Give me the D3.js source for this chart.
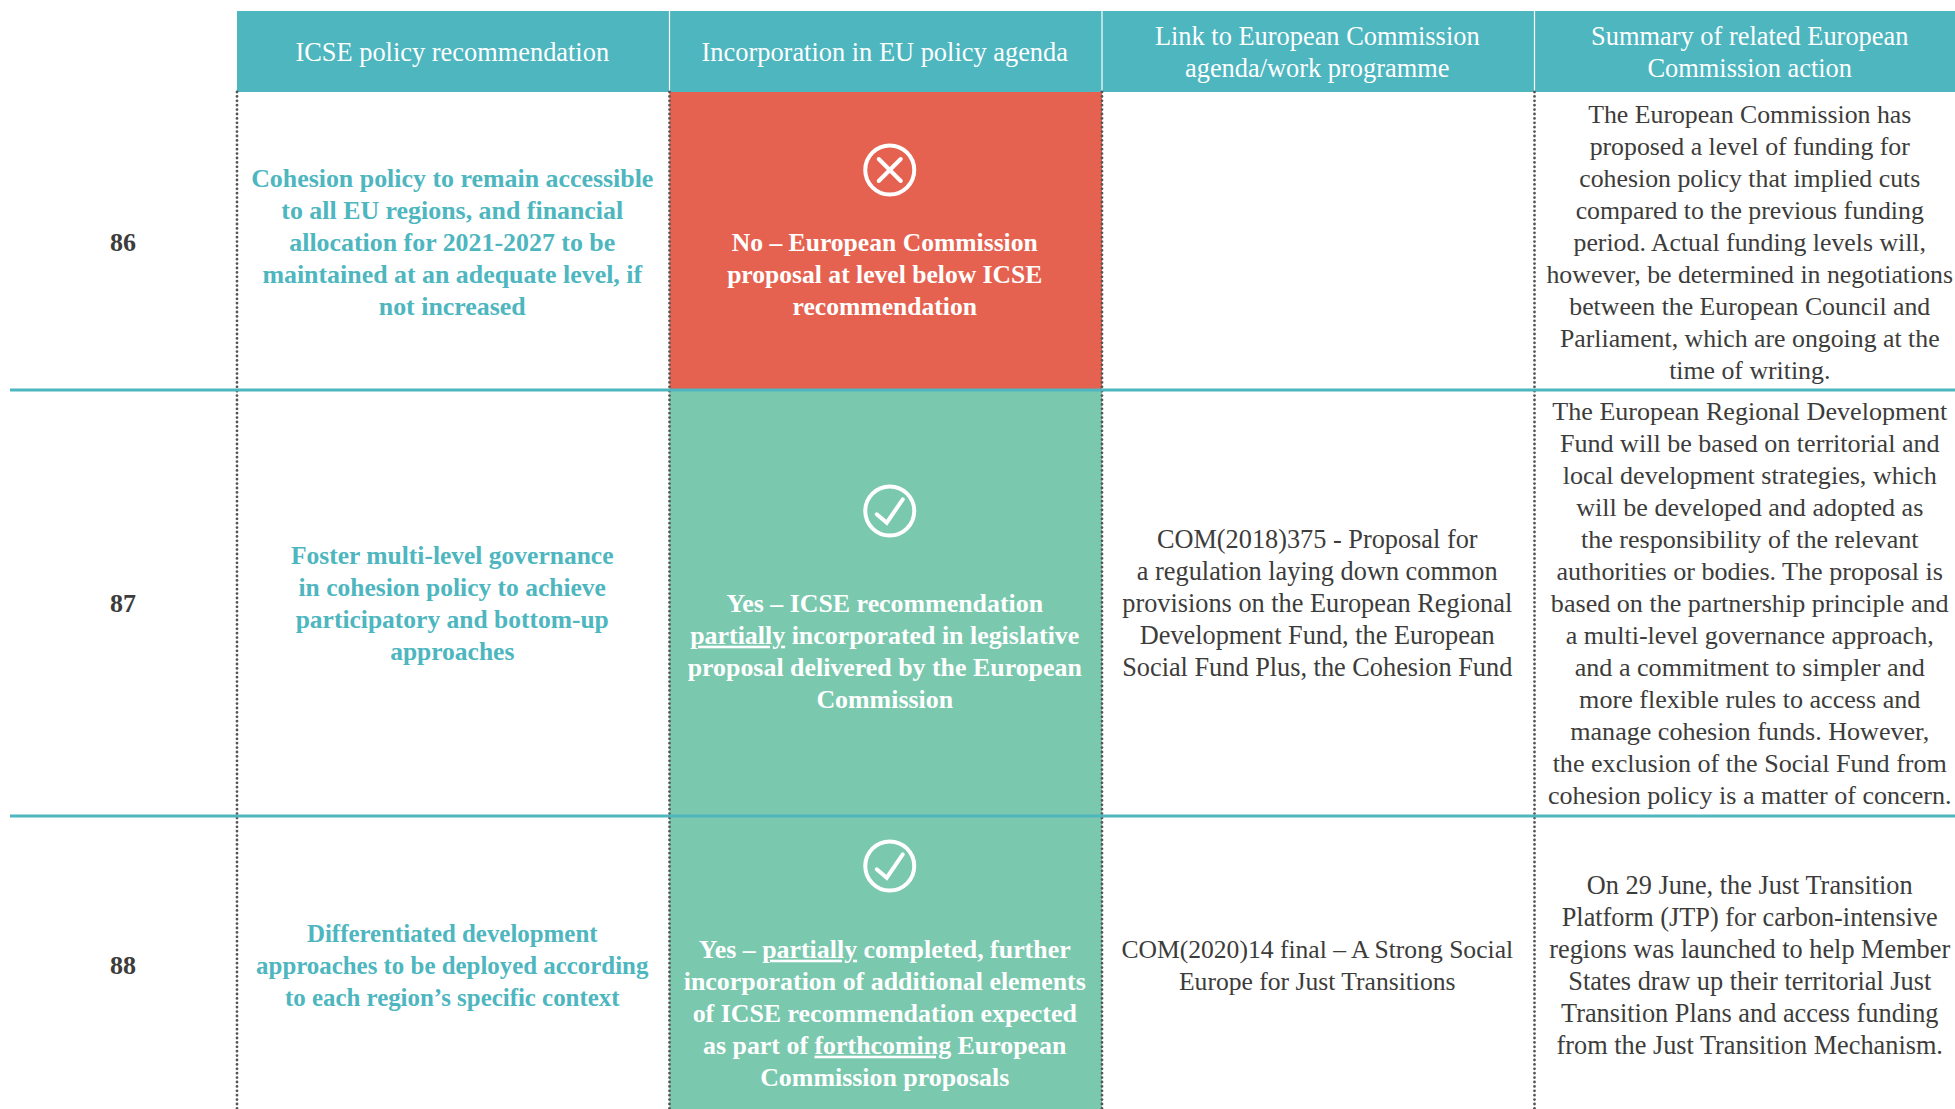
<!DOCTYPE html>
<html>
<head>
<meta charset="utf-8">
<script src="https://cdn.jsdelivr.net/npm/d3@7"></script>
<style>
  body { margin: 0; background: #fff; overflow: hidden; }
  svg { display: block; }
  text { font-family: "Liberation Serif", serif; text-anchor: middle; }
</style>
</head>
<body>
<svg></svg>
<script>
const width = 1955;
const height = 1109;

const headers = [
  ['ICSE policy recommendation'],
  ['Incorporation in EU policy agenda'],
  ['Link to European Commission', 'agenda/work programme'],
  ['Summary of related European', 'Commission action']
];

const rowNumbers = ['86', '87', '88'];
const rowLines = [9, 13, 9];
const statuses = ['no', 'yes', 'yes'];

const recommendations = [
  ['Cohesion policy to remain accessible', 'to all EU regions, and financial', 'allocation for 2021-2027 to be', 'maintained at an adequate level, if', 'not increased'],
  ['Foster multi-level governance', 'in cohesion policy to achieve', 'participatory and bottom-up', 'approaches'],
  ['Differentiated development', 'approaches to be deployed according', 'to each region’s specific context']
];

const incorporation = [
  ['No – European Commission', 'proposal at level below ICSE', 'recommendation'],
  ['Yes – ICSE recommendation', 'partially incorporated in legislative', 'proposal delivered by the European', 'Commission'],
  ['Yes – partially completed, further', 'incorporation of additional elements', 'of ICSE recommendation expected', 'as part of forthcoming European', 'Commission proposals']
];

const links = [
  [],
  ['COM(2018)375 - Proposal for', 'a regulation laying down common', 'provisions on the European Regional', 'Development Fund, the European', 'Social Fund Plus, the Cohesion Fund'],
  ['COM(2020)14 final – A Strong Social', 'Europe for Just Transitions']
];

const summaries = [
  ['The European Commission has', 'proposed a level of funding for', 'cohesion policy that implied cuts', 'compared to the previous funding', 'period. Actual funding levels will,', 'however, be determined in negotiations', 'between the European Council and', 'Parliament, which are ongoing at the', 'time of writing.'],
  ['The European Regional Development', 'Fund will be based on territorial and', 'local development strategies, which', 'will be developed and adopted as', 'the responsibility of the relevant', 'authorities or bodies. The proposal is', 'based on the partnership principle and', 'a multi-level governance approach,', 'and a commitment to simpler and', 'more flexible rules to access and', 'manage cohesion funds. However,', 'the exclusion of the Social Fund from', 'cohesion policy is a matter of concern.'],
  ['On 29 June, the Just Transition', 'Platform (JTP) for carbon-intensive', 'regions was launched to help Member', 'States draw up their territorial Just', 'Transition Plans and access funding', 'from the Just Transition Mechanism.']
];

const teal = '#4db6bf';
const ink = '#3c3c3b';
const statusColor = d3.scaleOrdinal().domain(['no', 'yes']).range(['#e66250', '#7ac8ae']);

const lineHeight = 32;
const headerTop = 11;
const headerBottom = 92;

// the cells do not all set at the same width as the source font
const recommendationSize = [25.9, 25.5, 24.9];
const incorporationSize = [25.6, 25.9, 25.9];
const linkSize = [25.6, 26.3, 25.6];
const summarySize = [25.8, 26.1, 26.3];

// row edges follow the line count of the tallest cell
const rowEdges = [headerBottom].concat(Array.from(d3.cumsum(rowLines, n => n * lineHeight + 10), d => headerBottom + d));
const x = d3.scaleLinear().domain([0, 4]).range([237, 1967]);
const rowTop = i => rowEdges[i];
const rowMid = i => (rowEdges[i] + rowEdges[i + 1]) / 2 - (i > 0 ? 0.8 : 0);
const colMid = i => (x(i) + x(i + 1)) / 2 - 1;

// where the icon and the text block sit inside the status cell
const iconOffset = [78, 121, 50];
const statusTextOffset = [32, 48, 48];

const svg = d3.select('svg').attr('width', width).attr('height', height);

function drawLines(g, lines, cx, cy, opts) {
  let t = g.append('text')
    .attr('font-size', opts.size)
    .attr('font-weight', opts.bold ? 700 : 400)
    .attr('fill', opts.fill);
  lines.forEach((line, i) => {
    let y = cy + (i - (lines.length - 1) / 2) * lineHeight + 9.5;
    line.split(/(partially|forthcoming)/).filter(s => s).forEach((part, j) => {
      let span = t.append('tspan').text(part);
      if (j === 0) span.attr('x', cx).attr('y', y);
      if (part === 'partially' || part === 'forthcoming') span.style('text-decoration', 'underline');
    });
  });
}

// header band
svg.append('rect')
  .attr('x', x(0)).attr('y', headerTop)
  .attr('width', width - x(0)).attr('height', headerBottom - headerTop)
  .attr('fill', teal);

svg.selectAll('.divider')
  .data([1, 2, 3])
  .enter().append('line')
    .classed('divider', true)
    .attr('x1', d => x(d)).attr('x2', d => x(d))
    .attr('y1', headerTop).attr('y2', headerBottom)
    .attr('stroke', '#fff').attr('stroke-width', 1.2);

headers.forEach((h, i) => {
  drawLines(svg, h, colMid(i), (headerTop + headerBottom) / 2, { fill: '#fff', size: 26.4 });
});

// status cells
svg.selectAll('.status')
  .data(statuses)
  .enter().append('rect')
    .classed('status', true)
    .attr('x', x(1)).attr('width', x(2) - x(1))
    .attr('y', (d, i) => rowTop(i))
    .attr('height', (d, i) => rowEdges[i + 1] - rowEdges[i])
    .attr('fill', d => statusColor(d));

// dotted column rules
svg.selectAll('.rule')
  .data([0, 1, 2, 3])
  .enter().append('line')
    .classed('rule', true)
    .attr('x1', d => x(d)).attr('x2', d => x(d))
    .attr('y1', headerBottom).attr('y2', height)
    .attr('stroke', '#555')
    .attr('stroke-width', 2.8)
    .attr('stroke-linecap', 'round')
    .attr('stroke-dasharray', '0 4.4');

// row separators
svg.selectAll('.separator')
  .data(rowEdges.slice(1, 3))
  .enter().append('line')
    .classed('separator', true)
    .attr('x1', 10).attr('x2', width)
    .attr('y1', d => d).attr('y2', d => d)
    .attr('stroke', teal).attr('stroke-width', 3);

// icons
const iconLine = d3.line();
const checkMark = [[-13, 3.3], [-3, 11.7], [13, -11.7]];
const crossMarks = [[[-11, -11], [11, 11]], [[-11, 11], [11, -11]]];

statuses.forEach((status, i) => {
  let icon = svg.append('g')
    .attr('transform', `translate(${(x(1) + x(2)) / 2 + 4}, ${rowTop(i) + iconOffset[i]})`)
    .attr('fill', 'none').attr('stroke', '#fff')
    .attr('stroke-width', 4).attr('stroke-linecap', 'round');
  icon.append('circle').attr('r', 24.5);
  let marks = status === 'no' ? crossMarks : [checkMark];
  marks.forEach(m => icon.append('path').attr('d', iconLine(m)));
});

// cell text
rowNumbers.forEach((n, i) => {
  let cy = rowMid(i);
  drawLines(svg, [n], 123, cy, { fill: ink, bold: true, size: 26 });
  drawLines(svg, recommendations[i], colMid(0), cy, { fill: teal, bold: true, size: recommendationSize[i] });
  drawLines(svg, incorporation[i], colMid(1), cy + statusTextOffset[i], { fill: '#fff', bold: true, size: incorporationSize[i] });
  drawLines(svg, links[i], colMid(2), cy, { fill: ink, size: linkSize[i] });
  drawLines(svg, summaries[i], colMid(3), cy, { fill: ink, size: summarySize[i] });
});
</script>
</body>
</html>
